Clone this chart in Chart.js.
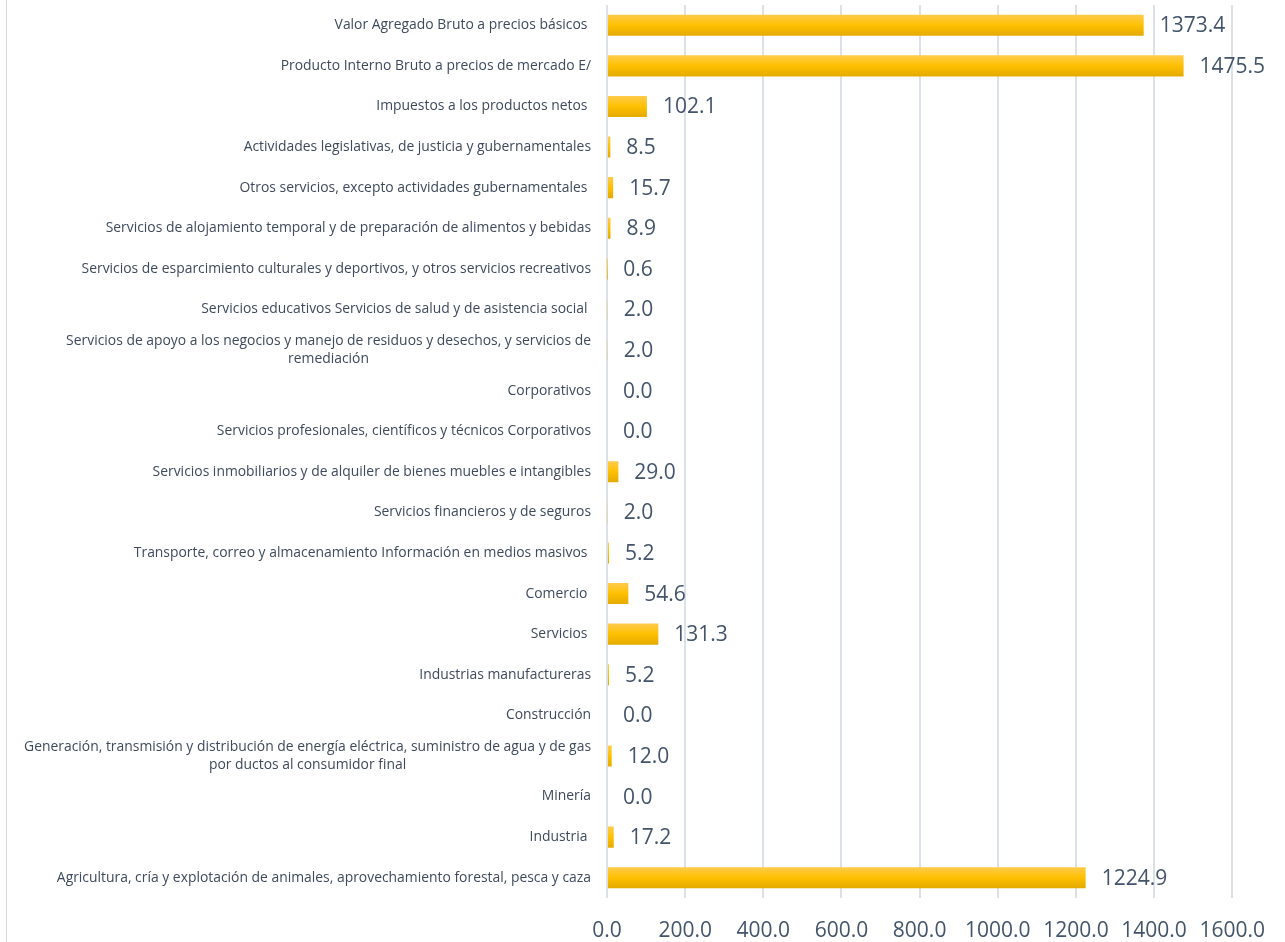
<!DOCTYPE html>
<html lang="es">
<head>
<meta charset="UTF-8">
<title>Valor agregado por actividad</title>
<script src="https://cdn.jsdelivr.net/npm/chart.js@4.4.1/dist/chart.umd.min.js"></script>
<style>
  html, body { margin: 0; padding: 0; background: #fff; }
  #contenedor { width: 1285px; height: 942px; position: relative; }
</style>
</head>
<body>
<div id="contenedor"><canvas id="chartActividades"></canvas></div>
<script>
// --- DATOS (de arriba hacia abajo) ---
const actividades = [
  "Valor Agregado Bruto a precios básicos ",
  "Producto Interno Bruto a precios de mercado E/",
  "Impuestos a los productos netos ",
  "Actividades legislativas, de justicia y gubernamentales",
  "Otros servicios, excepto actividades gubernamentales ",
  "Servicios de alojamiento temporal y de preparación de alimentos y bebidas",
  "Servicios de esparcimiento culturales y deportivos, y otros servicios recreativos",
  "Servicios educativos Servicios de salud y de asistencia social ",
  ["Servicios de apoyo a los negocios y manejo de residuos y desechos, y servicios de", "remediación"],
  "Corporativos",
  "Servicios profesionales, científicos y técnicos Corporativos",
  "Servicios inmobiliarios y de alquiler de bienes muebles e intangibles",
  "Servicios financieros y de seguros",
  "Transporte, correo y almacenamiento Información en medios masivos ",
  "Comercio ",
  "Servicios ",
  "Industrias manufactureras",
  "Construcción",
  ["Generación, transmisión y distribución de energía eléctrica, suministro de agua y de gas", "por ductos al consumidor final"],
  "Minería",
  "Industria ",
  "Agricultura, cría y explotación de animales, aprovechamiento forestal, pesca y caza"
];

const valores = [
  1373.4, 1475.5, 102.1, 8.5, 15.7, 8.9, 0.6, 2.0, 2.0, 0.0, 0.0,
  29.0, 2.0, 5.2, 54.6, 131.3, 5.2, 0.0, 12.0, 0.0, 17.2, 1224.9
];

const ticksX = [0, 200, 400, 600, 800, 1000, 1200, 1400, 1600];

// colores
const colorTexto = "#44546A";
const colorCategorias = "#3E4A5C";
const colorGrid = "#DCE1E8";

// degradado dorado para cada barra
function degradadoBarra(c) {
  const chart = c.chart;
  if (!chart.chartArea) return "#FFC000";
  const yc = chart.scales.y.getPixelForValue(c.dataIndex);
  const g = chart.ctx.createLinearGradient(0, yc - 10.5, 0, yc + 10.5);
  g.addColorStop(0, "#FFCB4C");
  g.addColorStop(0.5, "#FFC000");
  g.addColorStop(1, "#E3AA00");
  return g;
}

// plugin: etiquetas de categorías, valores y borde izquierdo
const etiquetasPlugin = {
  id: "etiquetas",
  beforeDraw(chart) {
    const { ctx, height } = chart;
    ctx.save();
    ctx.strokeStyle = "#D9D9D9";
    ctx.lineWidth = 1;
    ctx.beginPath();
    ctx.moveTo(6.5, 0);
    ctx.lineTo(6.5, height);
    ctx.stroke();
    ctx.restore();
  },
  afterDatasetsDraw(chart) {
    const { ctx, scales: { x, y } } = chart;
    const derecha = 591;
    ctx.save();
    ctx.textBaseline = "middle";

    // categorías
    ctx.font = '13.9px "Open Sans"';
    ctx.fillStyle = colorCategorias;
    actividades.forEach((lab, i) => {
      const yc = y.getPixelForValue(i);
      const lineas = Array.isArray(lab) ? lab : [lab];
      const anchoMax = Math.max(...lineas.map(l => ctx.measureText(l).width));
      lineas.forEach((l, j) => {
        const yy = yc + (j - (lineas.length - 1) / 2) * 18;
        if (lineas.length === 1) {
          ctx.textAlign = "right";
          ctx.fillText(l, derecha, yy);
        } else {
          ctx.textAlign = "center";
          ctx.fillText(l, derecha - anchoMax / 2, yy);
        }
      });
    });

    // valores al final de cada barra
    ctx.font = '21px "Open Sans"';
    ctx.fillStyle = colorTexto;
    ctx.textAlign = "left";
    valores.forEach((v, i) => {
      ctx.fillText(v.toFixed(1), x.getPixelForValue(v) + 16, y.getPixelForValue(i) + 1);
    });
    ctx.restore();
  }
};

const ctx = document.getElementById("chartActividades").getContext("2d");
new Chart(ctx, {
  type: "bar",
  data: {
    labels: actividades,
    datasets: [{
      data: valores,
      backgroundColor: degradadoBarra,
      borderWidth: 0,
      barPercentage: 0.52,
      categoryPercentage: 1
    }]
  },
  options: {
    indexAxis: "y",
    responsive: true,
    maintainAspectRatio: false,
    animation: false,
    layout: { padding: { top: 5, right: 52, left: 0, bottom: 0 } },
    plugins: {
      legend: { display: false },
      tooltip: { enabled: false }
    },
    scales: {
      y: {
        ticks: { display: false },
        grid: { display: false },
        border: { display: false },
        afterFit(scale) { scale.width = 607; }
      },
      x: {
        position: "bottom",
        min: 0,
        max: 1600,
        afterBuildTicks(scale) { scale.ticks = ticksX.map(v => ({ value: v })); },
        grid: { color: colorGrid, lineWidth: 2, drawTicks: false },
        border: { display: false },
        ticks: {
          color: colorTexto,
          font: { family: "Open Sans", size: 21 },
          padding: 20,
          maxRotation: 0,
          callback: v => Number(v).toFixed(1)
        },
        afterFit(scale) { scale.height = 44; }
      }
    }
  },
  plugins: [etiquetasPlugin]
});
</script>
</body>
</html>
